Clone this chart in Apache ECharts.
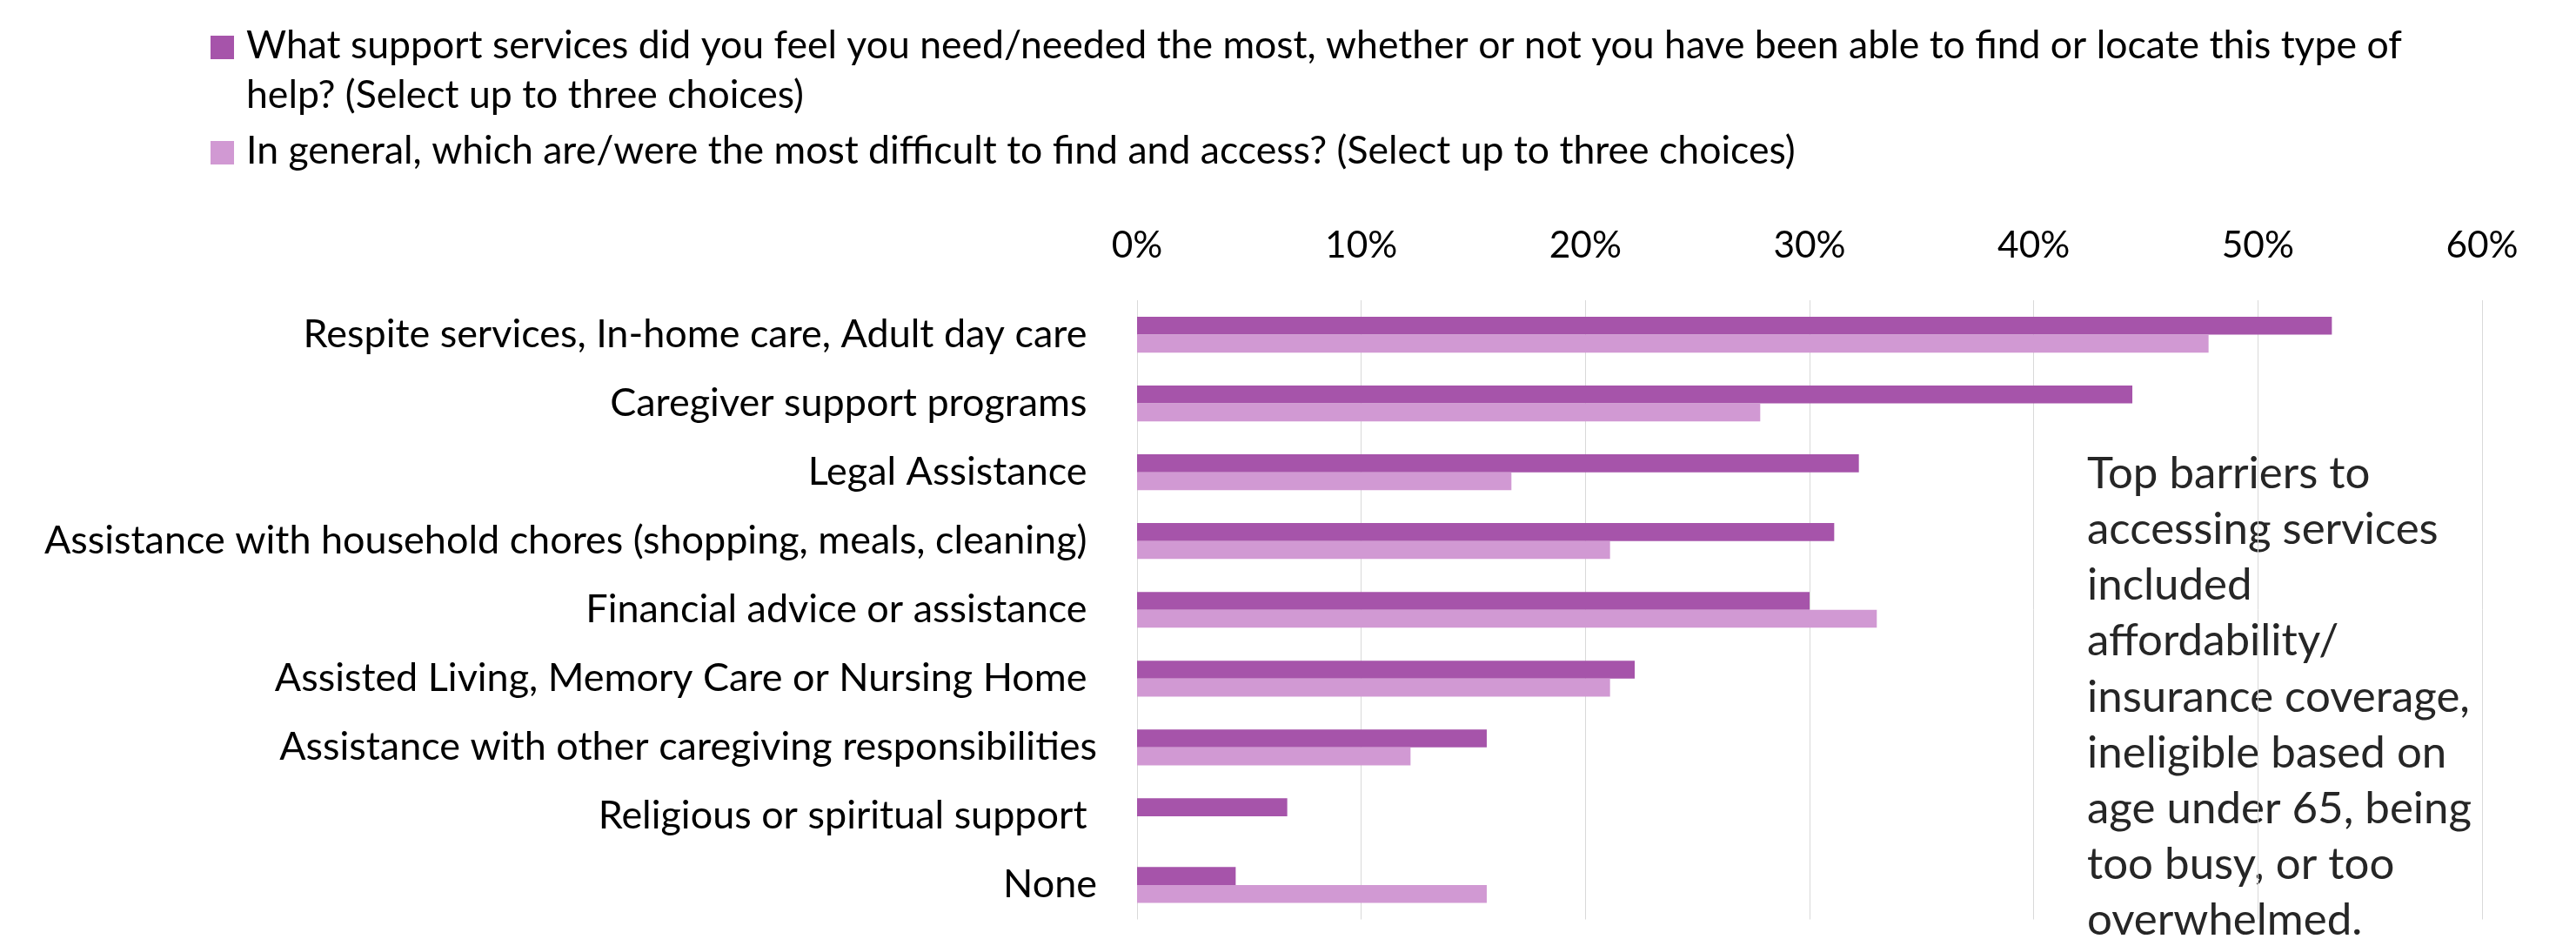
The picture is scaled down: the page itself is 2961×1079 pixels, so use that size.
<!DOCTYPE html>
<html>
<head>
<meta charset="utf-8"/>
<script src="https://cdn.jsdelivr.net/npm/echarts@6/dist/echarts.min.js"></script>
<style>
  html, body { margin: 0; padding: 0; background: #fff; }
  #chart { width: 2961px; height: 1079px; }
</style>
</head>
<body>
<div id="chart"></div>
<script>
// categories, top to bottom (some carry a trailing space, as in the source)
var categories = [
  'Respite services, In-home care, Adult day care ',
  'Caregiver support programs ',
  'Legal Assistance ',
  'Assistance with household chores (shopping, meals, cleaning) ',
  'Financial advice or assistance ',
  'Assisted Living, Memory Care or Nursing Home ',
  'Assistance with other caregiving responsibilities',
  'Religious or spiritual support ',
  'None'
];
var seriesNames = [
  'What support services did you feel you need/needed the most, whether or not you have been able to find or locate this type of help? (Select up to three choices)',
  'In general, which are/were the most difficult to find and access? (Select up to three choices)'
];
// percent values
var needed    = [53.3, 44.4, 32.2, 31.1, 30.0, 22.2, 15.6, 6.7, 4.4];
var difficult = [47.8, 27.8, 16.7, 21.1, 33.0, 21.1, 12.2, 0, 15.6];
var xTicks = [0, 10, 20, 30, 40, 50, 60];

var noteLines = ['Top barriers to', 'accessing services', 'included', 'affordability/',
  'insurance coverage,', 'ineligible based on', 'age under 65, being', 'too busy, or too', 'overwhelmed.'];

var FONT = 'Lato';
var dark = '#A654AA', light = '#D199D3';

// pick font sizes so the text runs as wide as in the picture
function fitSize(text, target){
  var ctx = document.createElement('canvas').getContext('2d');
  ctx.font = '100px ' + FONT;
  return 100 * target / ctx.measureText(text).width;
}
var legendSize = fitSize(seriesNames[0].split(' help?')[0], 2479);
var catSize = fitSize(categories[3].trim(), 1199);
var axisSize = catSize * 0.944;
var noteSize = fitSize(noteLines[4], 440);

var legendLH = 57.3, noteLH = 64.2;
// square icon sitting beside the first text line (the extra points widen/heighten the box)
var icon1 = 'path://M0,0L0,0M0,17L27,17L27,44L0,44ZM36,' + 2 * legendLH + 'L36,' + 2 * legendLH;
var icon2 = 'path://M0,0L0,0M0,17L27,17L27,44L0,44ZM36,' + legendLH + 'L36,' + legendLH;

var chart = echarts.init(document.getElementById('chart'), null, {renderer: 'canvas'});

chart.setOption({
  animation: false,
  textStyle: {fontFamily: FONT},
  legend: [{
    left: 242, top: 24, padding: 0,
    orient: 'vertical',
    itemWidth: 36, itemHeight: 2 * legendLH,
    icon: icon1,
    itemStyle: {borderWidth: 0},
    data: [{name: seriesNames[0]}],
    formatter: function(name){ return name.replace(' type of help?', ' type of\nhelp?'); },
    textStyle: {fontFamily: FONT, fontSize: legendSize, color: '#000', lineHeight: legendLH}
  }, {
    left: 242, top: 145, padding: 0,
    orient: 'vertical',
    itemWidth: 36, itemHeight: legendLH,
    icon: icon2,
    itemStyle: {borderWidth: 0},
    data: [{name: seriesNames[1]}],
    textStyle: {fontFamily: FONT, fontSize: legendSize, color: '#000', lineHeight: legendLH}
  }],
  grid: {left: 1307, right: 108, top: 345, bottom: 22.5, containLabel: false},
  xAxis: {
    type: 'value', position: 'top',
    min: xTicks[0], max: xTicks[xTicks.length - 1], interval: 10,
    axisLine: {show: false}, axisTick: {show: false},
    splitLine: {show: true, lineStyle: {color: '#D9D9D9', width: 1}},
    axisLabel: {formatter: '{value}%', fontFamily: FONT, fontSize: axisSize, color: '#000', margin: 62.5 - axisSize / 2}
  },
  yAxis: {
    type: 'category', inverse: true, data: categories,
    axisLine: {show: false}, axisTick: {show: false},
    axisLabel: {fontFamily: FONT, fontSize: catSize, color: '#000', margin: 46}
  },
  series: [{
    name: seriesNames[0], type: 'bar', data: needed,
    barWidth: 20.6, barGap: '0%',
    itemStyle: {color: dark}
  }, {
    name: seriesNames[1], type: 'bar', data: difficult,
    barWidth: 20.6, barGap: '0%',
    itemStyle: {color: light}
  }],
  graphic: [{
    type: 'text', left: 2399, top: 564 - noteLH / 2 - 0.387 * noteSize,
    style: {text: noteLines.join('\n'), fontFamily: FONT, fontSize: noteSize, lineHeight: noteLH, fill: '#262626'}
  }]
});
</script>
</body>
</html>
